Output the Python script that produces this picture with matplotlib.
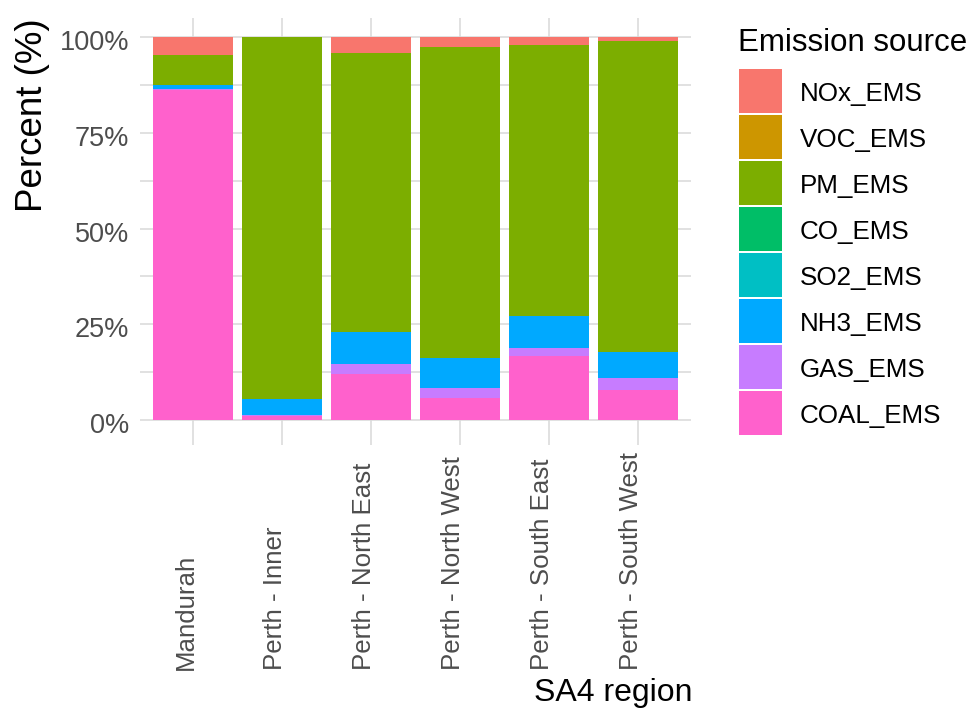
import matplotlib.pyplot as plt
import matplotlib.patches as mpatches
import matplotlib.transforms as mtransforms
import numpy as np

plt.rcParams['font.family'] = ['Liberation Sans', 'DejaVu Sans']

regions = ['Mandurah', 'Perth - Inner', 'Perth - North East',
           'Perth - North West', 'Perth - South East', 'Perth - South West']

# percent share of each source, stacked bottom -> top
coal = [86.2, 1.1, 12.1, 5.8, 16.8, 7.9]
gas = [0.2, 0.1, 2.6, 2.6, 2.1, 3.1]
nh3 = [1.1, 4.2, 8.3, 7.9, 8.4, 6.8]
so2 = [0.0, 0.0, 0.0, 0.0, 0.0, 0.0]
co = [0.0, 0.0, 0.0, 0.0, 0.0, 0.0]
pm = [7.9, 94.6, 72.9, 81.2, 70.7, 81.2]
voc = [0.0, 0.0, 0.0, 0.0, 0.0, 0.0]
nox = [4.6, 0.0, 4.1, 2.5, 2.0, 1.0]

sources = ['COAL_EMS', 'GAS_EMS', 'NH3_EMS', 'SO2_EMS', 'CO_EMS', 'PM_EMS', 'VOC_EMS', 'NOx_EMS']
series = [coal, gas, nh3, so2, co, pm, voc, nox]
colors = ['#FF61CC', '#C77CFF', '#00A9FF', '#00BFC4', '#00BE67', '#7CAE00', '#CD9600', '#F8766D']

W, H = 971, 709
fig = plt.figure(figsize=(W / 100, H / 100), dpi=100)
ax = fig.add_axes([0.1442, 0.3807, 0.7117 - 0.1442, 0.9743 - 0.3807])

x = np.arange(1, len(regions) + 1)
vals = np.array(series)
vals = vals / vals.sum(axis=0)
bottom = np.zeros(len(regions))
for v, c in zip(vals, colors):
    ax.bar(x, v, width=0.9, bottom=bottom, color=c, linewidth=0, zorder=3)
    bottom += v

ax.set_xlim(0.4, 6.6)
ax.set_ylim(-0.05, 1.05)

grid_col = '#d9d9d9'
ax.set_yticks([0, 0.25, 0.5, 0.75, 1.0])
ax.set_yticks([0.125, 0.375, 0.625, 0.875], minor=True)
ax.set_yticklabels(['0%', '25%', '50%', '75%', '100%'], fontsize=19.5, color='#4d4d4d')
ax.tick_params(axis='y', which='both', length=0, pad=8)
ax.set_xticks(x)
ax.set_xticklabels([])
ax.tick_params(axis='x', length=4, width=1.1, color=grid_col)
ax.grid(True, which='both', axis='y', color=grid_col, linewidth=1.1, zorder=0)
ax.grid(True, which='major', axis='x', color=grid_col, linewidth=1.1, zorder=0)
ax.set_axisbelow(True)
for s in ax.spines.values():
    s.set_visible(False)

# nudge y tick labels down a few pixels, like the reference
shift = mtransforms.ScaledTranslation(0, -3 / 100, fig.dpi_scale_trans)
for lab in ax.get_yticklabels():
    lab.set_transform(lab.get_transform() + shift)

# rotated region labels, all starting at the same height
trans = mtransforms.blended_transform_factory(ax.transData, fig.transFigure)
for xi, name in zip(x, regions):
    ax.text(xi - 0.08, 1 - 670 / H, name, transform=trans, rotation=90,
            fontsize=18.6, color='#4d4d4d', ha='center', va='bottom')

fig.text(692 / W, 1 - 693 / H, 'SA4 region', fontsize=23, ha='right', va='center')
fig.text(33 / W, 0.9743, 'Percent (%)', fontsize=26.5, rotation=90, ha='center', va='top')

# legend
fig.text(738 / W, 1 - 43 / H, 'Emission source', fontsize=22.5, ha='left', va='center')
key_w, key_h, step = 43, 44, 46
for i, (name, c) in enumerate(zip(sources[::-1], colors[::-1])):
    top = 69 + i * step
    fig.patches.append(mpatches.Rectangle((739 / W, 1 - (top + key_h) / H), key_w / W, key_h / H,
                                          transform=fig.transFigure, color=c, linewidth=0))
    fig.text(800 / W, 1 - (top + key_h / 2 + 3) / H, name, fontsize=18.7, ha='left', va='center')

fig.savefig('out.png', dpi=100)
